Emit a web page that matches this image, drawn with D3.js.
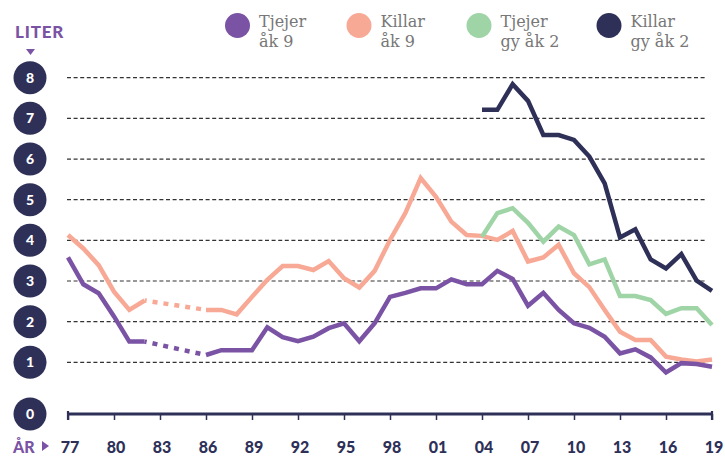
<!DOCTYPE html>
<html>
<head>
<meta charset="utf-8">
<script src="https://cdn.jsdelivr.net/npm/d3@7"></script>
<style>
  html, body { margin: 0; padding: 0; background: #fff; }
  svg { display: block; }
</style>
</head>
<body>
<svg id="chart" width="725" height="457"></svg>
<script>
// ---- data ----
const years = [1977,1978,1979,1980,1981,1982,1983,1984,1985,1986,1987,1988,1989,1990,1991,1992,1993,1994,1995,1996,1997,1998,1999,2000,2001,2002,2003,2004,2005,2006,2007,2008,2009,2010,2011,2012,2013,2014,2015,2016,2017,2018,2019];
const tjejerAk9 = [3.58,2.92,2.70,2.13,1.51,1.51,null,null,null,1.18,1.30,1.30,1.30,1.86,1.62,1.52,1.63,1.84,1.96,1.52,1.96,2.61,2.71,2.82,2.82,3.04,2.92,2.92,3.25,3.05,2.39,2.71,2.29,1.96,1.85,1.63,1.22,1.32,1.12,0.75,0.98,0.96,0.89];
const killarAk9 = [4.13,3.80,3.39,2.74,2.29,2.52,null,null,null,2.29,2.29,2.18,2.61,3.03,3.37,3.37,3.27,3.49,3.07,2.84,3.25,4.01,4.67,5.53,5.07,4.46,4.13,4.11,4.01,4.23,3.48,3.58,3.89,3.19,2.85,2.29,1.75,1.55,1.55,1.14,1.07,1.02,1.07];
const gyYears = [2004,2005,2006,2007,2008,2009,2010,2011,2012,2013,2014,2015,2016,2017,2018,2019];
const tjejerGy2 = [4.09,4.67,4.79,4.43,3.97,4.34,4.13,3.41,3.53,2.63,2.63,2.53,2.19,2.33,2.33,1.92];
const killarGy2 = [7.21,7.21,7.84,7.43,6.59,6.59,6.47,6.06,5.40,4.07,4.27,3.53,3.31,3.66,3.01,2.76];
const yTicks = [0,1,2,3,4,5,6,7,8];
const xTickYears = [1977,1980,1983,1986,1989,1992,1995,1998,2001,2004,2007,2010,2013,2016,2019];
const xTickLabels = ["77","80","83","86","89","92","95","98","01","04","07","10","13","16","19"];
const legendNames = [["Tjejer","åk 9"],["Killar","åk 9"],["Tjejer","gy åk 2"],["Killar","gy åk 2"]];
const colors = ["#7a53a4","#f8a995","#9fd4a6","#2e3058"];

// ---- layout ----
const svg = d3.select("#chart");
const x = d3.scaleLinear().domain([1977, 2019]).range([68, 712]);
const y = d3.scaleLinear().domain([0, 8]).range([403, 77.7]);
const navy = "#2e3058", purple = "#7a53a4";
const axisY = 414;

// gridlines
svg.append("g").selectAll("line").data(yTicks.filter(d => d > 0)).join("line")
  .attr("x1", 67).attr("x2", 707)
  .attr("y1", d => y(d)).attr("y2", d => y(d))
  .attr("stroke", "#333").attr("stroke-width", 1.2)
  .attr("stroke-dasharray", "4,2.6");

// y tick circles
const yg = svg.append("g").selectAll("g").data(yTicks).join("g")
  .attr("transform", d => `translate(30,${d === 0 ? axisY : y(d)})`);
yg.append("circle").attr("r", 16.5).attr("fill", navy);
yg.append("text").text(d => d)
  .attr("text-anchor", "middle").attr("dy", "0.36em")
  .attr("fill", "#fff").attr("font-family", "Lato, sans-serif")
  .attr("font-weight", 900).attr("font-size", 14);

// LITER label
svg.append("text").text("LITER").attr("x", 15).attr("y", 38)
  .attr("fill", purple).attr("font-family", "Lato, sans-serif")
  .attr("font-weight", 900).attr("font-size", 17).attr("letter-spacing", 0.8);
svg.append("path").attr("d", "M26,49 L35,49 L30.5,55 Z").attr("fill", purple);

// x axis
const xAxis = d3.axisBottom(x).tickValues(xTickYears).tickSize(6).tickFormat("");
const xg = svg.append("g").attr("transform", `translate(0,${axisY})`).call(xAxis);
xg.select(".domain").remove();
xg.selectAll(".tick line").attr("stroke", navy).attr("stroke-width", 1.5);
xg.append("line").attr("x1", x(1977) - 1).attr("x2", x(2019) + 1)
  .attr("stroke", navy).attr("stroke-width", 3);
xg.append("line").attr("x1", x(1977)).attr("x2", x(1977)).attr("y1", -3).attr("y2", 6)
  .attr("stroke", navy).attr("stroke-width", 2.2);
xg.append("line").attr("x1", x(2019)).attr("x2", x(2019)).attr("y1", -3).attr("y2", 6)
  .attr("stroke", navy).attr("stroke-width", 2.2);

svg.append("g").selectAll("text").data(xTickYears).join("text")
  .text((d, i) => xTickLabels[i])
  .attr("x", d => x(d) + 2).attr("y", 453)
  .attr("text-anchor", "middle").attr("fill", navy)
  .attr("font-family", "Lato, sans-serif").attr("font-weight", 900).attr("font-size", 16);
svg.append("text").text("ÅR").attr("x", 13).attr("y", 453)
  .attr("fill", purple).attr("font-family", "Lato, sans-serif")
  .attr("font-weight", 900).attr("font-size", 16);
svg.append("path").attr("d", "M42,441 L42,451 L49,446 Z").attr("fill", purple);

// lines
const line = d3.line().defined(d => d[1] != null).x(d => x(d[0])).y(d => y(d[1]));
function drawSeries(yrs, vals, color) {
  const pts = yrs.map((yr, i) => [yr, vals[i]]);
  svg.append("path").datum(pts).attr("d", line)
    .attr("fill", "none").attr("stroke", color).attr("stroke-width", 4.5)
    .attr("stroke-linejoin", "miter");
  // dotted bridges across gaps
  for (let i = 1; i < pts.length; i++) {
    if (pts[i][1] == null && pts[i - 1][1] != null) {
      let j = i;
      while (j < pts.length && pts[j][1] == null) j++;
      if (j < pts.length) {
        svg.append("path").datum([pts[i - 1], pts[j]]).attr("d", line)
          .attr("fill", "none").attr("stroke", color).attr("stroke-width", 4.5)
          .attr("stroke-dasharray", "5,6").attr("stroke-dashoffset", -8);
      }
    }
  }
}
drawSeries(years, killarAk9, colors[1]);
drawSeries(years, tjejerAk9, colors[0]);
drawSeries(gyYears, tjejerGy2, colors[2]);
drawSeries(gyYears, killarGy2, colors[3]);

// legend
const legendX = [237.5, 359, 479, 609];
const lg = svg.append("g").selectAll("g").data(legendNames).join("g")
  .attr("transform", (d, i) => `translate(${legendX[i]},25.5)`);
lg.append("circle").attr("r", 12.5).attr("fill", (d, i) => colors[i]);
lg.append("text").attr("x", 21.5).attr("y", 1.5).text(d => d[0])
  .attr("fill", "#777").attr("font-family", "'DejaVu Serif', 'Liberation Serif', serif").attr("font-size", 16);
lg.append("text").attr("x", 21.5).attr("y", 21.5).text(d => d[1])
  .attr("fill", "#777").attr("font-family", "'DejaVu Serif', 'Liberation Serif', serif").attr("font-size", 16);
</script>
</body>
</html>
